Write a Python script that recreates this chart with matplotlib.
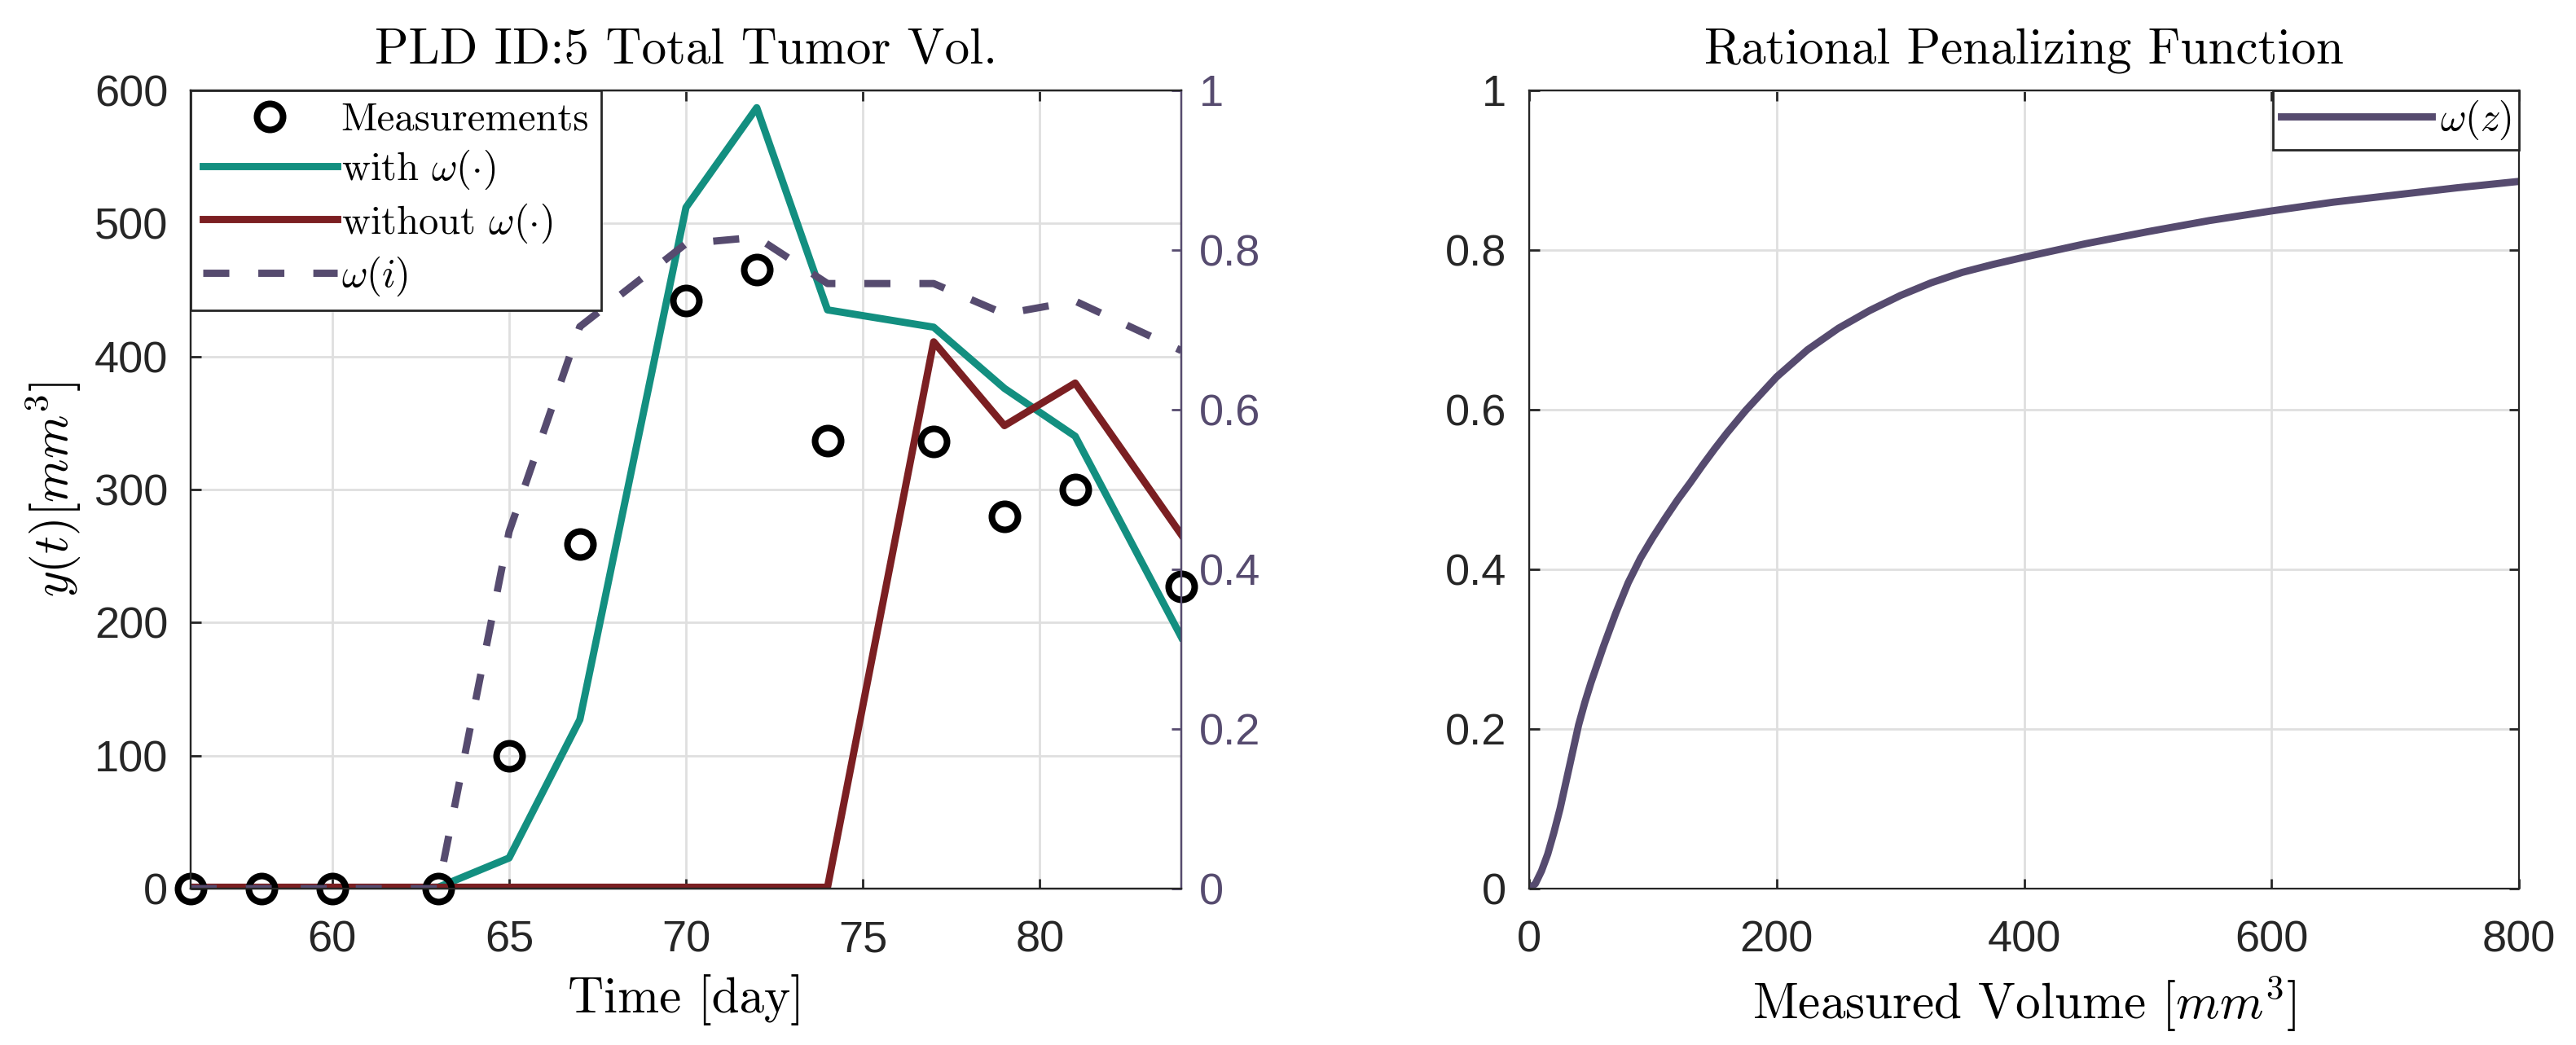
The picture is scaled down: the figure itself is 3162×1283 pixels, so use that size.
import numpy as np
import matplotlib.pyplot as plt

plt.rcParams['mathtext.fontset'] = 'cm'
plt.rcParams['font.family'] = ['Liberation Sans', 'DejaVu Sans']

# measurement days and tumour volumes (mm^3)
days = [56, 58, 60, 63, 65, 67, 70, 72, 74, 77, 79, 81, 84]
measured = [0, 0, 0, 0, 100, 259, 442, 465, 337, 336, 280, 300, 227]
with_omega = [0, 0, 0, 1, 23, 127, 512, 587, 435, 422, 376, 340, 189]
without_omega = [1, 1, 1, 1, 1, 1, 1, 1, 1, 411, 348, 380, 266]
omega_i = [0, 0, 0, 0, 0.447, 0.704, 0.808, 0.816, 0.758, 0.758, 0.720, 0.736, 0.674]

# penalizing function
vol_z = [0, 5, 10, 15, 20, 25, 30, 35, 40, 45, 50, 60, 70, 80, 90, 100,
         110, 120, 130, 140, 150, 160, 175, 200, 225, 250, 275, 300, 325,
         350, 375, 400, 450, 500, 550, 600, 650, 700, 750, 800]
omega_z = [0, 0.006, 0.022, 0.043, 0.07, 0.10, 0.135, 0.17, 0.205, 0.233,
           0.258, 0.303, 0.345, 0.383, 0.414, 0.440, 0.464, 0.487, 0.508,
           0.530, 0.551, 0.571, 0.599, 0.641, 0.675, 0.702, 0.724, 0.743,
           0.759, 0.772, 0.782, 0.791, 0.808, 0.823, 0.837, 0.849, 0.860,
           0.869, 0.878, 0.886]

teal = '#138f80'
dred = '#7b1f22'
purp = '#564b6f'
ink = '#262626'
lw = 3.2
serif = 'cmr10'

fig = plt.figure(figsize=(15.81, 6.415), dpi=200)

# ---- left panel ----
ax = fig.add_axes([0.074, 0.1497, 0.3846, 0.7638])
ax2 = ax.twinx()

h_meas, = ax.plot(days, measured, 'o', ms=11.5, mfc='none', mec='black', mew=2.9,
                  clip_on=False, zorder=5, label='Measurements')
h_with, = ax.plot(days, with_omega, color=teal, lw=lw, label=r'with $\omega(\cdot)$')
h_wo, = ax.plot(days, without_omega, color=dred, lw=lw, label=r'without $\omega(\cdot)$')
h_om, = ax2.plot(days, omega_i, color=purp, lw=lw, dashes=(3.6, 4.0), label=r'$\omega(i)$')

ax.set_xlim(56, 84)
ax.set_ylim(0, 600)
ax.set_xticks([60, 65, 70, 75, 80])
ax.set_yticks(np.arange(0, 601, 100))
ax2.set_ylim(0, 1)
ax2.set_yticks([0, 0.2, 0.4, 0.6, 0.8, 1])
ax2.set_yticklabels(['0', '0.2', '0.4', '0.6', '0.8', '1'])

ax.grid(True, color='#dfdfdf', lw=1)
ax.set_axisbelow(True)
ax.tick_params(axis='x', direction='in', length=4.5, width=1, top=True, pad=14,
               labelsize=19.5, colors=ink)
ax.tick_params(axis='y', direction='in', length=4.5, width=1, pad=10,
               labelsize=19.5, colors=ink)
ax2.tick_params(axis='y', direction='in', length=4.5, width=1, pad=8,
                labelsize=19.5, colors=purp)
for sp in ['left', 'bottom', 'top']:
    ax.spines[sp].set_color(ink)
    ax2.spines[sp].set_color(ink)
ax2.spines['right'].set_color(purp)

ax.set_title('PLD ID:5 Total Tumor Vol.', fontsize=22, pad=12, family=serif)
ax.set_xlabel('Time [day]', fontsize=22, labelpad=6, family=serif)
ax.set_ylabel(r'$y(t)[mm^3]$', fontsize=22, labelpad=5)

leg = ax2.legend(handles=[h_meas, h_with, h_wo, h_om], loc='upper left',
                 prop={'family': serif, 'size': 17.5}, fancybox=False,
                 edgecolor=ink, framealpha=1, borderaxespad=0, handlelength=3.4,
                 handletextpad=0.1, labelspacing=0.25, borderpad=0.3)
leg.get_frame().set_linewidth(1)

# ---- right panel ----
bx = fig.add_axes([0.5936, 0.1497, 0.3843, 0.7638])
h_wz, = bx.plot(vol_z, omega_z, color=purp, lw=lw, label=r'$\omega(z)$')
bx.set_xlim(0, 800)
bx.set_ylim(0, 1)
bx.set_xticks([0, 200, 400, 600, 800])
bx.set_yticks([0, 0.2, 0.4, 0.6, 0.8, 1])
bx.set_yticklabels(['0', '0.2', '0.4', '0.6', '0.8', '1'])
bx.grid(True, color='#dfdfdf', lw=1)
bx.set_axisbelow(True)
bx.tick_params(axis='x', direction='in', length=4.5, width=1, top=True, pad=14,
               labelsize=19.5, colors=ink)
bx.tick_params(axis='y', direction='in', length=4.5, width=1, right=True, pad=10,
               labelsize=19.5, colors=ink)
for sp in bx.spines.values():
    sp.set_color(ink)
bx.set_title('Rational Penalizing Function', fontsize=22, pad=12, family=serif)
bx.set_xlabel(r'Measured Volume $[mm^3]$', fontsize=22, labelpad=6, family=serif)
leg2 = bx.legend(loc='upper right', prop={'family': serif, 'size': 17.5},
                 fancybox=False, edgecolor=ink, framealpha=1, borderaxespad=0,
                 handlelength=3.8, handletextpad=0.2, borderpad=0.2)
leg2.get_frame().set_linewidth(1)

fig.savefig('out.png', dpi=200)
